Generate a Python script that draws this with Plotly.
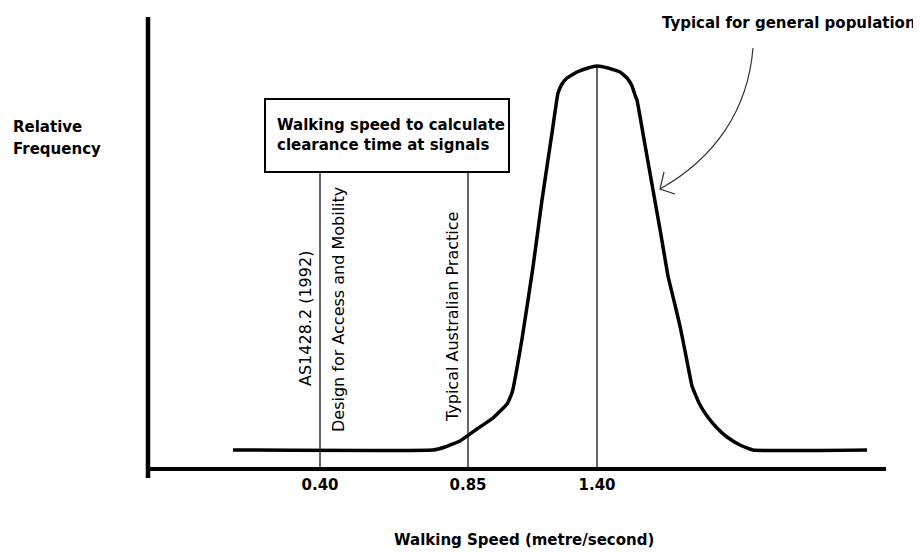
import plotly.graph_objects as go

# ---- data (schematic position units along the axis, relative frequency units up) ----
curve_pos = [85, 285, 297, 312, 329, 345, 359, 364, 374, 385, 394, 404, 410, 414, 419, 429,
             440, 449, 460, 472, 479, 484, 487, 489, 497, 505, 513, 520, 527, 532, 538, 544,
             551, 559, 569, 579, 592, 605, 719]
curve_freq = [19, 19, 22, 28, 40, 51, 65, 76, 130, 202, 269, 336, 376, 385, 391, 397,
              401, 403, 401, 397, 391, 383, 374, 369, 324, 279, 234, 193, 164, 143, 113, 83,
              66, 53, 41, 32, 24, 19, 19]

tick_pos = [172, 320, 449]
tick_labels = ["0.40", "0.85", "1.40"]

# reference lines: (position, top of line)
ref_pos = [172, 320, 449]
ref_top = [297, 297, 403]

rot_labels = ["AS1428.2 (1992)", "Design for Access and Mobility", "Typical Australian Practice"]
rot_label_pos = [157, 190, 304]
rot_label_mid = [150, 159, 152]

box_text = ["Walking speed to calculate", "clearance time at signals"]
y_title = ["Relative", "Frequency"]

FONT = "DejaVu Sans"
PLOT_W, PLOT_H = 738, 452


def px(v):
    return v / PLOT_W


def py(v):
    return v / PLOT_H


fig = go.Figure()

fig.add_trace(go.Scatter(x=curve_pos, y=curve_freq, mode="lines",
                         line=dict(color="black", width=3.5, shape="spline", smoothing=0.3),
                         hoverinfo="skip", showlegend=False))

for p, t in zip(ref_pos, ref_top):
    fig.add_trace(go.Scatter(x=[p, p], y=[0, t], mode="lines",
                             line=dict(color="black", width=1.2),
                             hoverinfo="skip", showlegend=False))

shapes = []
# axes
shapes.append(dict(type="line", xref="paper", yref="paper", x0=0, x1=0, y0=-0.02, y1=1,
                   line=dict(color="black", width=4.5)))
shapes.append(dict(type="line", xref="paper", yref="paper", x0=0, x1=1, y0=0, y1=0,
                   line=dict(color="black", width=4)))
# box
shapes.append(dict(type="rect", xref="x", yref="y", x0=117, x1=361, y0=297, y1=370,
                   line=dict(color="black", width=2), fillcolor="white", layer="below"))
# curved arrow
shapes.append(dict(type="path", xref="x", yref="y",
                   path="M 605,421 C 600,359 567,311 512,280",
                   line=dict(color="#333333", width=1.2)))
shapes.append(dict(type="path", xref="x", yref="y",
                   path="M 516,297 L 512,280 L 527,275",
                   line=dict(color="#333333", width=1.2)))

annotations = []
for txt, p, m in zip(rot_labels, rot_label_pos, rot_label_mid):
    annotations.append(dict(x=p, y=m, xref="x", yref="y", text=txt, showarrow=False,
                            textangle=-90, xanchor="center", yanchor="middle",
                            font=dict(family=FONT, size=16, color="black")))

annotations.append(dict(x=127, y=344, xref="x", yref="y", text="<b>" + box_text[0] + "</b>",
                        showarrow=False, xanchor="left", yanchor="middle",
                        font=dict(family=FONT, size=15, color="black")))
annotations.append(dict(x=127, y=324, xref="x", yref="y", text="<b>" + box_text[1] + "</b>",
                        showarrow=False, xanchor="left", yanchor="middle",
                        font=dict(family=FONT, size=15, color="black")))

annotations.append(dict(x=641, y=446, xref="x", yref="y", text="<b>Typical for general population</b>",
                        showarrow=False, xanchor="center", yanchor="middle",
                        font=dict(family=FONT, size=15, color="black")))

annotations.append(dict(x=px(-137), y=py(342), xref="paper", yref="paper", text="<b>" + y_title[0] + "</b>",
                        showarrow=False, xanchor="left", yanchor="middle",
                        font=dict(family=FONT, size=15, color="black")))
annotations.append(dict(x=px(-137), y=py(320), xref="paper", yref="paper", text="<b>" + y_title[1] + "</b>",
                        showarrow=False, xanchor="left", yanchor="middle",
                        font=dict(family=FONT, size=15, color="black")))

annotations.append(dict(x=px(376), y=py(-71), xref="paper", yref="paper",
                        text="<b>Walking Speed (metre/second)</b>",
                        showarrow=False, xanchor="center", yanchor="middle",
                        font=dict(family=FONT, size=15, color="black")))

fig.update_layout(
    width=913, height=544,
    margin=dict(l=140, r=35, t=9, b=83, pad=0),
    paper_bgcolor="white", plot_bgcolor="white",
    shapes=shapes, annotations=annotations,
    xaxis=dict(range=[0, PLOT_W], showgrid=False, zeroline=False, showline=False,
               tickvals=tick_pos, ticktext=["<b>" + t + "</b>" for t in tick_labels],
               ticks="", ticklabelstandoff=5,
               tickfont=dict(family=FONT, size=15, color="black"),
               fixedrange=True),
    yaxis=dict(range=[0, PLOT_H], showgrid=False, zeroline=False, showline=False,
               showticklabels=False, ticks="", fixedrange=True),
    showlegend=False,
)

fig.write_html("out.html")
